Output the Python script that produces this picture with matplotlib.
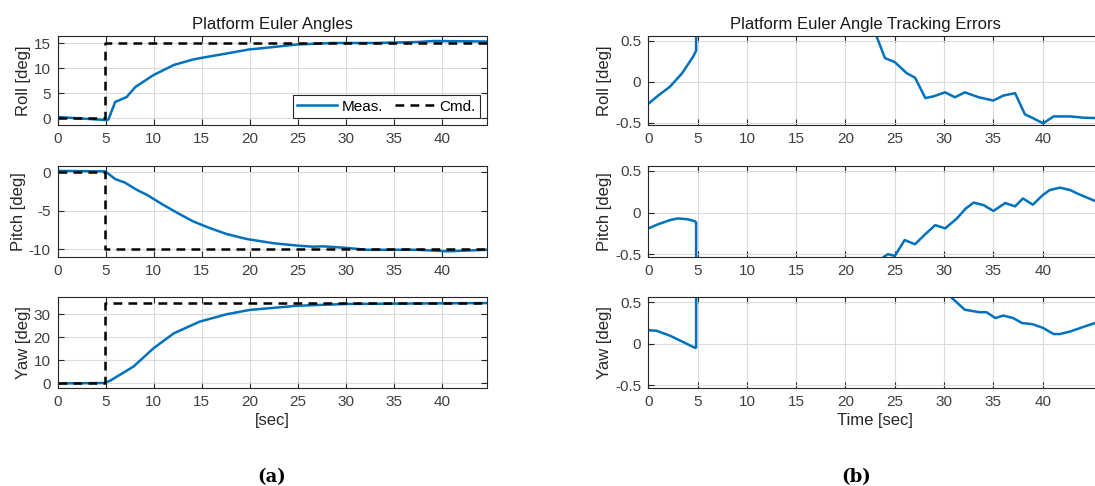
import numpy as np
import matplotlib.pyplot as plt

plt.rcParams['font.family'] = ['Liberation Sans', 'DejaVu Sans']
plt.rcParams['axes.unicode_minus'] = False

# measured angles [deg] (left panel)
t_roll = [0, 4.95, 5.3, 6.0, 6.6, 7.2, 8.1, 10, 12.1, 14.1, 15.2, 17.6, 19.9, 22, 24.9, 28.7, 33, 37.4, 39.2, 44.7]
roll_meas = [0.3, -0.3, -0.2, 3.3, 3.8, 4.3, 6.3, 8.7, 10.7, 11.8, 12.2, 13.0, 13.8, 14.2, 14.8, 15.1, 15.1, 15.3, 15.5, 15.4]

t_pitch = [0, 4.95, 5.5, 6, 7, 8.25, 9.3, 11, 12.4, 14.1, 15.9, 17.6, 19.7, 22.5, 24.9, 26.6, 27.6, 30.0, 32.2, 37.4, 40.6, 44.7]
pitch_meas = [0.17, 0.1, -0.4, -0.9, -1.35, -2.3, -2.95, -4.25, -5.25, -6.4, -7.3, -8.05, -8.7, -9.25, -9.55, -9.7, -9.65, -9.85, -10.1, -10.1, -10.3, -10.1]

t_yaw = [0, 4.9, 5.5, 7.9, 10, 12.1, 14.8, 17.6, 20, 24.9, 30.1, 44.7]
yaw_meas = [-0.16, 0.05, 1.1, 7.2, 15.2, 21.7, 26.8, 30, 31.9, 33.7, 34.5, 34.9]

# commanded steps
t_cmd = [0, 4.9, 4.9, 44.7]
roll_cmd = [0, 0, 15, 15]
pitch_cmd = [0, 0, -10, -10]
yaw_cmd = [0, 0, 35, 35]

# tracking errors [deg] (right panel)
t_err_roll = [0, 1, 2.2, 3.4, 4.56, 4.85, 4.9, 6, 8, 10, 15, 20, 22.5, 23.2, 24.0, 25.0, 26.2, 27.05, 28.1, 28.9,
              30.1, 31.1, 32.1, 33.5, 35.0, 36.0, 37.2, 38.2, 39.0, 40.05, 41.1, 42.8, 44.1, 45.3]
err_roll = [-0.27, -0.17, -0.06, 0.10, 0.31, 0.38, 15.3, 11.7, 8.7, 6.3, 2.8, 1.2, 0.75, 0.54, 0.29, 0.24, 0.105, 0.05, -0.2, -0.18,
            -0.13, -0.19, -0.13, -0.19, -0.23, -0.17, -0.14, -0.40, -0.445, -0.51, -0.425, -0.425, -0.44, -0.445]

t_err_pitch = [0, 1, 2.2, 3.0, 4.0, 4.74, 4.85, 4.9, 10, 15, 20, 23, 23.8, 24.3, 25.0, 26.0, 27.05, 28, 29.1, 30.1,
               31.3, 32.2, 33.0, 34.0, 35.0, 36.2, 37.2, 38.0, 39.0, 40.0, 40.7, 41.75, 42.8, 43.5, 45.3]
err_pitch = [-0.19, -0.14, -0.09, -0.07, -0.08, -0.105, -0.12, -10.1, -6.2, -3.1, -1.3, -0.65, -0.54, -0.5, -0.52, -0.33, -0.38, -0.27, -0.15, -0.19,
             -0.07, 0.05, 0.12, 0.09, 0.02, 0.115, 0.075, 0.17, 0.095, 0.21, 0.27, 0.30, 0.27, 0.23, 0.14]

t_err_yaw = [0, 0.85, 2.2, 3.55, 4.74, 4.85, 4.9, 10, 15, 20, 25, 29, 30.9, 32.1, 33.6, 34.3, 35.2, 36.0, 37.0, 37.9,
             39.0, 40.05, 41.1, 41.75, 42.8, 44.05, 45.3]
err_yaw = [0.164, 0.156, 0.097, 0.02, -0.05, -0.045, 34.7, 19.8, 8, 3, 1.3, 0.75, 0.54, 0.41, 0.38, 0.38, 0.31, 0.34, 0.31, 0.25,
           0.235, 0.19, 0.117, 0.117, 0.148, 0.2, 0.25]

blue = '#0072BD'
W, H = 1095, 486
fig = plt.figure(figsize=(W / 100, H / 100), dpi=100)


def px_axes(l, t, r, b):
    return fig.add_axes([l / W, 1 - b / H, (r - l) / W, (b - t) / H])


def style(ax, xmax, ylim, yticks, ylabel):
    ax.set_xlim(0, xmax)
    ax.set_ylim(*ylim)
    ax.set_xticks(np.arange(0, 45, 5))
    ax.set_yticks(yticks)
    ax.grid(True, color='#dcdcdc', lw=0.8)
    ax.set_axisbelow(True)
    ax.tick_params(direction='in', top=True, right=True, length=4, width=0.8,
                   labelsize=11, colors='#262626', labelcolor='#404040', pad=5)
    for s in ax.spines.values():
        s.set_color('#262626')
        s.set_linewidth(0.8)
    ax.set_ylabel(ylabel, fontsize=12, color='#262626', labelpad=2)


rows = [(36, 125), (166, 256.7), (297.3, 387.7)]

# left panel
axl = [px_axes(57.5, t, 487, b) for t, b in rows]
axl[0].plot(t_roll, roll_meas, color=blue, lw=1.8, label='Meas.')
axl[0].plot(t_cmd, roll_cmd, 'k--', lw=1.8, dashes=(3.5, 2.5), label='Cmd.')
axl[1].plot(t_pitch, pitch_meas, color=blue, lw=1.8)
axl[1].plot(t_cmd, pitch_cmd, 'k--', lw=1.8, dashes=(3.5, 2.5))
axl[2].plot(t_yaw, yaw_meas, color=blue, lw=1.8)
axl[2].plot(t_cmd, yaw_cmd, 'k--', lw=1.8, dashes=(3.5, 2.5))
style(axl[0], 44.7, (-1.3, 16.5), [0, 5, 10, 15], 'Roll [deg]')
style(axl[1], 44.7, (-11, 0.8), [-10, -5, 0], 'Pitch [deg]')
style(axl[2], 44.7, (-2, 37.4), [0, 10, 20, 30], 'Yaw [deg]')
leg = axl[0].legend(loc='lower right', ncol=2, fontsize=11, handlelength=2.6,
                    fancybox=False, framealpha=1, edgecolor='#262626',
                    borderaxespad=0.45, columnspacing=0.8, handletextpad=0.3,
                    borderpad=0.3)
leg.get_frame().set_linewidth(0.8)
axl[0].set_title('Platform Euler Angles', fontsize=12, color='#1a1a1a', pad=5)
axl[2].set_xlabel('[sec]', fontsize=12, color='#262626', labelpad=3)

# right panel (cut at the right edge of the figure)
axr = [px_axes(648.3, t, 1101, b) for t, b in rows]
axr[0].plot(t_err_roll, err_roll, color=blue, lw=1.8)
axr[1].plot(t_err_pitch, err_pitch, color=blue, lw=1.8)
axr[2].plot(t_err_yaw, err_yaw, color=blue, lw=1.8)
xr = (1101 - 648.3) / 9.86
for ax, lab in zip(axr, ['Roll [deg]', 'Pitch [deg]', 'Yaw [deg]']):
    style(ax, xr, (-0.53, 0.56), [-0.5, 0, 0.5], lab)
    ax.set_yticklabels(['-0.5', '0', '0.5'])
axr[0].set_title('Platform Euler Angle Tracking Errors', fontsize=12, color='#1a1a1a', pad=5,
                 x=(865 - 648.3) / (1101 - 648.3))
axr[2].set_xlabel('Time [sec]', fontsize=12, color='#262626', labelpad=3)

fig.text(272 / W, 1 - 477 / H, '(a)', ha='center', va='center', fontsize=13,
         family='DejaVu Serif', weight='bold')
fig.text(856 / W, 1 - 477 / H, '(b)', ha='center', va='center', fontsize=13,
         family='DejaVu Serif', weight='bold')

fig.savefig('out.png', dpi=100)
